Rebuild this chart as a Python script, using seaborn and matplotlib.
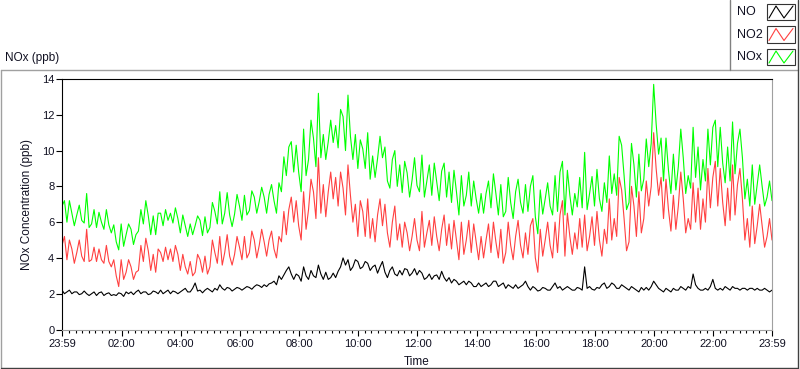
import numpy as np
import pandas as pd
import matplotlib.pyplot as plt
import seaborn as sns
from matplotlib.lines import Line2D
from matplotlib.patches import Rectangle

# minutes after 23:59, one reading every 5 minutes
minutes = np.arange(0, 1441, 5)

# NO (ppb), one row per hour
no = [2.2, 2.0, 2.1, 2.2, 2.0, 2.1, 2.1, 1.95, 2.0, 2.15, 2.0, 1.9,
      2.0, 2.1, 1.9, 2.05, 2.1, 1.9, 2.0, 2.05, 1.9, 1.95, 1.9, 2.05,
      2.0, 1.85, 2.1, 2.0, 2.1, 1.95, 2.1, 2.2, 2.0, 2.1, 2.1, 1.95,
      2.0, 2.15, 2.1, 2.0, 2.2, 2.0, 2.1, 2.2, 2.0, 2.15, 2.1, 2.0,
      2.1, 2.2, 2.3, 2.1, 2.1, 2.3, 2.6, 2.15, 2.2, 2.05, 2.2, 2.3,
      2.2, 2.1, 2.3, 2.2, 2.5, 2.3, 2.2, 2.35, 2.3, 2.15, 2.25, 2.35,
      2.3, 2.2, 2.3, 2.4, 2.35, 2.25, 2.4, 2.5, 2.45, 2.35, 2.5, 2.4,
      2.55, 2.6, 2.7, 2.5, 3.0, 2.8, 3.05, 3.3, 3.5, 3.1, 2.8, 3.1,
      3.0, 2.7, 3.5, 3.0, 2.8, 3.3, 3.0, 2.9, 3.6, 3.1, 2.8, 3.2,
      2.8, 2.9, 3.15, 2.9, 3.25, 3.5, 4.0, 3.6, 3.9, 3.3, 3.5, 3.9,
      3.8, 3.4, 3.5, 3.8, 3.7, 3.3, 3.5, 3.6, 3.15, 3.5, 3.8, 3.2,
      2.9, 3.3, 3.5, 3.1, 3.0, 3.3, 3.05, 3.4, 3.35, 3.0, 3.15, 3.4,
      3.05, 3.3, 3.15, 2.8, 2.9, 3.1, 2.8, 3.0, 3.05, 2.8, 3.25, 2.9,
      2.7, 2.9, 2.6, 2.8, 2.7, 2.5, 2.6, 2.7, 2.5, 2.7, 2.6, 2.4,
      2.4, 2.6, 2.4, 2.5, 2.6, 2.4, 2.5, 2.7, 2.7, 2.4, 2.5, 2.6,
      2.3, 2.5, 2.4, 2.3, 2.5, 2.3, 2.4, 2.5, 2.7, 2.4, 2.2, 2.4,
      2.3, 2.15, 2.2, 2.35, 2.3, 2.2, 2.2, 2.4, 2.6, 2.3, 2.4, 2.2,
      2.3, 2.4, 2.3, 2.2, 2.2, 2.35, 2.3, 2.2, 3.5, 2.3, 2.4, 2.25,
      2.2, 2.35, 2.3, 2.5, 2.6, 2.3, 2.4, 2.6, 2.5, 2.3, 2.3, 2.5,
      2.4, 2.3, 2.2, 2.4, 2.3, 2.2, 2.1, 2.35, 2.2, 2.35, 2.2, 2.4,
      2.7, 2.5, 2.3, 2.2, 2.1, 2.3, 2.2, 2.1, 2.3, 2.2, 2.2, 2.4,
      2.3, 2.2, 2.4, 2.3, 3.1, 2.5, 2.3, 2.2, 2.2, 2.3, 2.2, 2.4,
      2.8, 2.3, 2.2, 2.3, 2.2, 2.4, 2.3, 2.2, 2.4, 2.3, 2.3, 2.2,
      2.3, 2.3, 2.2, 2.3, 2.3, 2.2, 2.3, 2.2, 2.2, 2.3, 2.2, 2.1,
      2.2]

# NO2 (ppb), one row per hour
no2 = [4.7, 5.2, 3.9, 5.0, 4.5, 3.7, 4.3, 5.0, 4.1, 3.8, 5.6, 3.8,
       3.9, 4.6, 3.8, 4.5, 3.9, 3.7, 4.7, 3.8, 3.5, 3.9, 3.0, 2.4,
       3.9, 2.8, 3.2, 3.9, 3.5, 2.8, 3.2, 3.3, 4.7, 3.8, 5.1, 4.4,
       3.3, 4.2, 3.2, 4.5, 4.3, 3.8, 4.6, 3.9, 4.5, 3.8, 4.7, 4.2,
       3.3, 4.2, 3.5, 3.1, 3.8, 3.0, 3.2, 4.2, 3.9, 3.2, 4.1, 3.1,
       3.5, 5.0, 4.3, 3.7, 5.2, 3.6, 4.3, 5.3, 4.1, 3.6, 4.2, 5.2,
       4.6, 3.9, 5.2, 4.0, 4.3, 5.5, 5.0, 4.0, 4.7, 5.6, 4.9, 4.1,
       5.0, 5.5, 4.5, 4.0, 5.2, 4.9, 6.6, 5.3, 6.7, 7.4, 6.0, 7.2,
       5.8, 5.0, 7.7, 5.6, 6.7, 8.4, 7.7, 6.2, 9.6, 6.5, 8.1, 6.3,
       7.7, 8.8, 7.3, 8.5, 6.9, 8.8, 7.9, 6.4, 9.2, 7.5, 6.0, 7.0,
       5.2, 7.2, 6.6, 5.2, 7.3, 5.1, 6.2, 4.9, 6.4, 7.3, 5.8, 7.0,
       5.4, 4.6, 6.0, 6.9, 5.0, 5.9, 4.6, 6.0, 5.4, 4.4, 5.2, 6.2,
       5.0, 4.4, 6.6, 4.6, 5.4, 6.1, 4.7, 6.3, 5.2, 4.4, 5.6, 6.4,
       4.7, 5.9, 4.5, 6.1, 5.0, 3.9, 6.0, 4.2, 5.0, 6.1, 4.3, 5.9,
       4.9, 3.9, 5.2, 4.0, 5.0, 5.9, 4.3, 6.0, 4.9, 4.0, 5.6, 3.7,
       4.3, 6.0, 4.7, 3.9, 5.2, 6.1, 4.7, 4.0, 5.4, 4.2, 5.8, 6.2,
       4.0, 3.2, 5.6, 4.1, 5.0, 6.0, 4.7, 4.0, 6.0, 4.3, 6.4, 7.2,
       4.1, 6.5, 5.2, 4.2, 5.4, 4.5, 6.2, 4.6, 6.4, 4.4, 5.2, 6.3,
       4.7, 6.6, 5.0, 4.1, 5.6, 4.8, 7.3, 5.0, 6.2, 5.2, 8.5, 7.8,
       6.2, 4.4, 4.9, 8.0, 6.9, 5.2, 7.7, 5.4, 6.2, 8.3, 6.9, 8.0,
       11.0, 9.0, 7.5, 8.5, 6.2, 8.4, 6.7, 5.5, 7.5, 5.6, 6.9, 8.8,
       7.3, 5.4, 6.2, 5.6, 8.2, 6.0, 7.9, 5.6, 7.3, 6.0, 9.0, 6.8,
       8.5, 9.4, 6.9, 9.0, 7.1, 5.8, 7.9, 6.1, 9.2, 6.4, 8.1, 9.0,
       7.3, 5.0, 6.2, 4.6, 6.9, 4.8, 5.8, 7.0, 5.8, 4.6, 5.2, 6.2,
       5.0]

# NOx is the sum of NO and NO2
nox = list(np.round(np.array(no) + np.array(no2), 2))

series_names = ["NO", "NO2", "NOx"]
series_colors = ["#000000", "#ff4040", "#00ff00"]

tick_pos = [0, 121, 241, 361, 481, 601, 721, 841, 961, 1081, 1201, 1321, 1440]
tick_labels = ["23:59", "02:00", "04:00", "06:00", "08:00", "10:00", "12:00",
               "14:00", "16:00", "18:00", "20:00", "22:00", "23:59"]

assert len(no) == len(no2) == len(minutes)

df = pd.DataFrame({"minutes": np.tile(minutes, 3),
                   "value": no + no2 + nox,
                   "series": np.repeat(series_names, len(minutes))})

sns.set_style("white")
plt.rcParams['font.family'] = ['Liberation Sans', 'DejaVu Sans']
txt = "#111122"

W, H = 800, 369
fig = plt.figure(figsize=(W / 100, H / 100), dpi=100)


def px(x, y):
    return x / W, 1 - y / H


ax = fig.add_axes([62 / W, 1 - 329.5 / H, 710 / W, 250.5 / H])
sns.lineplot(data=df, x="minutes", y="value", hue="series",
             palette=dict(zip(series_names, series_colors)),
             estimator=None, linewidth=0.8, legend=False, ax=ax)

ax.set_xlim(0, 1440)
ax.set_ylim(0, 14)
ax.set_yticks(range(0, 15, 2))
ax.set_xticks(tick_pos)
ax.set_xticklabels(tick_labels)
minors = [121 + k * 120 / 9 for k in range(-9, 100)]
minors = [m for m in minors if 0 < m < 1440 and min(abs(m - t) for t in tick_pos) > 1]
ax.set_xticks(minors, minor=True)
ax.tick_params(axis="y", direction="out", length=4, width=0.8, pad=1.5,
               labelsize=8, colors="black", labelcolor=txt, left=True)
ax.tick_params(axis="x", which="major", direction="out", length=4.5, width=0.8,
               pad=2.5, labelsize=8, colors="black", labelcolor=txt, bottom=True)
ax.tick_params(axis="x", which="minor", direction="out", length=2.5, width=0.8,
               colors="black", bottom=True)

ax.set_xlabel("Time", fontsize=8.5, color=txt)
ax.set_ylabel("NOx Concentration (ppb)", fontsize=8.5, color=txt)
ax.xaxis.set_label_coords(0.5, -0.105)
ax.yaxis.set_label_coords(-0.041, 0.5)

for side, c in [("left", "black"), ("top", "black"), ("right", "#a0a0a0"), ("bottom", "#a0a0a0")]:
    ax.spines[side].set_visible(True)
    ax.spines[side].set_color(c)
    ax.spines[side].set_linewidth(0.8)

# outer panel frame and legend box
frame = [((0.5, 69.5), (798, 69.5), "#a0a0a0"),
         ((0.5, 69.5), (0.5, 367.5), "#a0a0a0"),
         ((0.5, 367.5), (798, 367.5), "#404040"),
         ((798, 0), (798, 367.5), "#404040"),
         ((730, 0), (730, 69.5), "#808080")]
for (x0, y0), (x1, y1), c in frame:
    p0, p1 = px(x0, y0), px(x1, y1)
    fig.add_artist(Line2D([p0[0], p1[0]], [p0[1], p1[1]], color=c, lw=1,
                          transform=fig.transFigure))

fig.text(*px(5, 58), "NOx (ppb)", fontsize=8.5, color=txt, va="center", ha="left")

# legend entries
for i, (name, c) in enumerate(zip(series_names, series_colors)):
    yc = 12 + i * 22.5
    fig.text(*px(737, yc), name, fontsize=9, color=txt, va="center", ha="left")
    x0, y0 = px(767, yc + 8)
    fig.add_artist(Rectangle((x0, y0), 28 / W, 16 / H, fill=False,
                             edgecolor="#333333", lw=0.8, transform=fig.transFigure))
    zx = [769, 776, 784, 793]
    zy = [yc + 6, yc - 6, yc + 6, yc - 6]
    pts = [px(a, b) for a, b in zip(zx, zy)]
    fig.add_artist(Line2D([p[0] for p in pts], [p[1] for p in pts], color=c,
                          lw=0.8, transform=fig.transFigure))

fig.savefig("out.png", dpi=100)
